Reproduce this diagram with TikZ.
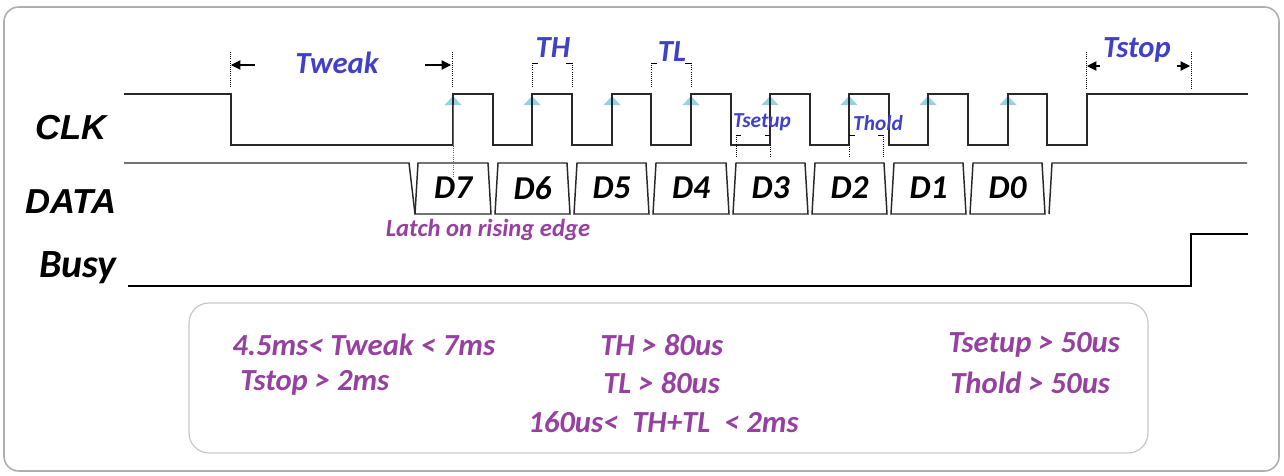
\documentclass[tikz,border=0pt]{standalone}
\usepackage{fontspec}
\setmainfont{Carlito}
\newfontfamily\arialfont{Liberation Sans}
\usetikzlibrary{arrows.meta}
\definecolor{tblue}{RGB}{64,64,200}
\definecolor{tpurple}{RGB}{150,64,160}
\definecolor{tri}{RGB}{150,210,225}
\definecolor{framec}{RGB}{175,175,175}
\definecolor{sig}{RGB}{40,40,40}
\begin{document}
\begin{tikzpicture}[x=0.75pt,y=-0.75pt,
  siglbl/.style={font=\arialfont\bfseries\itshape\fontsize{26}{30}\selectfont, inner sep=0pt},
  busylbl/.style={font=\bfseries\itshape\fontsize{30}{34}\selectfont, inner sep=0pt},
  bluelbl/.style={text=tblue, font=\bfseries\itshape\fontsize{23}{26}\selectfont, inner sep=0pt},
  smallblue/.style={text=tblue, font=\bfseries\itshape\fontsize{16}{18}\selectfont, inner sep=0pt},
  datalbl/.style={font=\bfseries\itshape\fontsize{25}{28}\selectfont, inner sep=0pt},
  purplelbl/.style={text=tpurple, font=\bfseries\itshape\fontsize{18.5}{21}\selectfont, inner sep=0pt},
  boxtxt/.style={text=tpurple, font=\bfseries\itshape\fontsize{23}{27}\selectfont, inner sep=0pt, anchor=west},
  wave/.style={draw=sig, line width=1.1pt},
  dimline/.style={densely dotted, line width=0.6pt},
  tick/.style={line width=0.6pt},
  dimarrow/.style={-{Triangle[length=7pt,width=7pt]}, line width=0.8pt}
]
\useasboundingbox (0,0) rectangle (1284,475);
% frames
\draw[framec, line width=1.2pt, rounded corners=11pt] (4,7) rectangle (1279,471);
\draw[framec!70, line width=0.9pt, rounded corners=15pt] (189,303) rectangle (1148,453);

% signal labels
\node[siglbl] (clk) at (71,128) {CLK};
\node[siglbl] (data) at (71,202) {DATA};
\node[busylbl] (busy) at (78,268) {Busy};

% triangles at rising edges
\foreach \r in {453,532,612,691,770,849,928,1008}
  \fill[tri] (\r-8.5,105) -- (\r+8.5,105) -- (\r,96) -- cycle;

% CLK waveform
\draw[wave] (124,94) -| (231,145) -| (453,94) -| (493,145) -| (532,94) -| (572,145)
  -| (612,94) -| (651,145) -| (691,94) -| (731,145) -| (770,94) -| (810,145)
  -| (849,94) -| (889,145) -| (928,94) -| (968,145) -| (1008,94) -| (1047,145)
  -| (1087,94) -- (1248,94);

% DATA waveform
\draw[wave] (124,163) -- (409,163) -- (415,214);
\foreach \a/\b/\t in {413/493/7,493/572/6,572/651/5,651/731/4,731/810/3,810/889/2,889/968/1,968/1047/0}{
  \draw[wave] (\a+5,163) -- (\b-5,163) -- (\b-2,214) -- (\a+2,214) -- cycle;
  \node[datalbl] (d\t) at ({(\a+\b)/2},188) {D\t};
}
\draw[wave] (1049,214) -- (1052,163) -- (1247,163);

% Busy waveform
\draw[wave, draw=black] (128,286) -- (1191,286) -- (1191,234) -- (1248,234);

% latch line
\draw[tpurple, line width=0.6pt] (453,105) -- (453,146);
\draw[tpurple, densely dotted, line width=0.6pt] (453,146) -- (453,176);
\node[purplelbl] (latch) at (488,230) {Latch on rising edge};

% Tweak
\draw[dimline] (230,52) -- (230,88);
\draw[dimline] (452,52) -- (452,88);
\coordinate (tw1) at (255,65); \coordinate (tw1e) at (231,65);
\coordinate (tw2) at (425,65); \coordinate (tw2e) at (451,65);
\draw[dimarrow] (tw1) -- (tw1e);
\draw[dimarrow] (tw2) -- (tw2e);
\node[bluelbl] (tweak) at (337,63) {Tweak};

% TH
\draw[tick] (532,63) -- (538,63); \draw[dimline] (532,63) -- (532,88);
\draw[tick] (572,63) -- (566,63); \draw[dimline] (572,63) -- (572,88);
\node[bluelbl] (th) at (553,48) {TH};
% TL
\draw[tick] (651,63) -- (657,63); \draw[dimline] (651,63) -- (651,88);
\draw[tick] (691,63) -- (685,63); \draw[dimline] (691,63) -- (691,88);
\node[bluelbl] (tl) at (672,52) {TL};

% Tsetup
\draw[tick] (736,135) -- (741,135); \draw[dimline] (736,135) -- (736,157);
\draw[tick] (770,135) -- (765,135); \draw[dimline] (770,145) -- (770,157);
\node[smallblue] (tsetup) at (762,122) {Tsetup};
% Thold
\draw[tick] (849,135) -- (855,135); \draw[dimline] (849,145) -- (849,157);
\draw[tick] (883,135) -- (878,135); \draw[dimline] (883,135) -- (883,157);
\node[smallblue] (thold) at (878,123) {Thold};

% Tstop
\draw[dimline] (1086,52) -- (1086,90);
\draw[dimline] (1191,52) -- (1191,90);
\coordinate (ts1) at (1100,66); \coordinate (ts1e) at (1087,66);
\coordinate (ts2) at (1177,66); \coordinate (ts2e) at (1190,66);
\draw[dimarrow] (ts1) -- (ts1e);
\draw[dimarrow] (ts2) -- (ts2e);
\node[bluelbl] (tstop) at (1137,50) {Tstop};

% specification box text
\node[boxtxt] (c1) at (232,345) {4.5ms< Tweak < 7ms};
\node[boxtxt] (c2) at (240,383) {Tstop > 2ms};
\node[boxtxt] (c3) at (600,345) {TH > 80us};
\node[boxtxt] (c4) at (603,383) {TL > 80us};
\node[boxtxt] (c5) at (528,422) {160us<\ \ TH+TL\ \ < 2ms};
\node[boxtxt] (c6) at (948,345) {Tsetup > 50us};
\node[boxtxt] (c7) at (950,383) {Thold > 50us};
\end{tikzpicture}
\end{document}
